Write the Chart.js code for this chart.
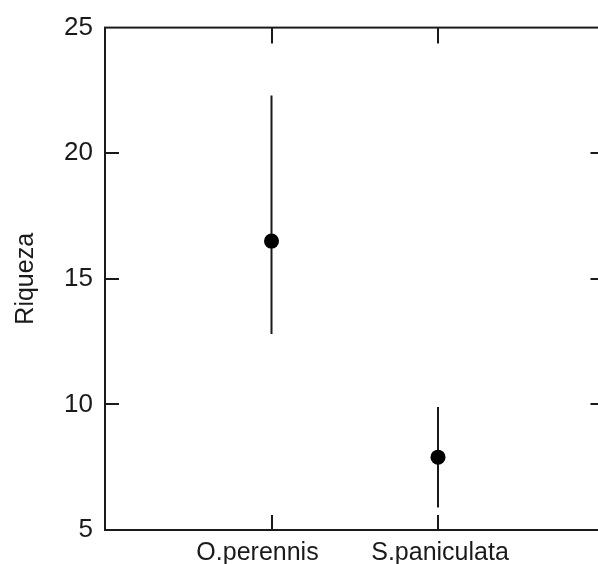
<!DOCTYPE html>
<html>
<head>
<meta charset="utf-8">
<script src="https://cdn.jsdelivr.net/npm/chart.js@4"></script>
<style>
  html, body { margin: 0; padding: 0; background: #fff; overflow: hidden; }
  #wrap { position: relative; width: 612px; height: 564px; }
</style>
</head>
<body>
<div id="wrap"><canvas id="riqueza"></canvas></div>
<script>
const categories = ['O.perennis', 'S.paniculata'];
const means = [16.5, 7.9];
const lower = [12.8, 5.9];
const upper = [22.3, 9.9];
const yTicks = [5, 10, 15, 20, 25];

const INK = '#1a1a1a';
const FONT = "'Liberation Sans', Arial, sans-serif";

// vertical error bars, one small line dataset per category
const errorSets = categories.map((c, i) => ({
    type: 'line',
    data: [{ x: i + 1, y: lower[i] }, { x: i + 1, y: upper[i] }],
    borderColor: INK,
    borderWidth: 2,
    pointRadius: 0,
    fill: false,
    order: 2
}));

// box around the plot, inward tick marks and the category names
const frame = {
    id: 'frame',
    beforeDatasetsDraw(chart) {
        const { ctx, chartArea: a, scales: { x, y } } = chart;
        ctx.save();
        ctx.strokeStyle = INK;
        ctx.lineWidth = 2;
        ctx.strokeRect(a.left, a.top, a.right - a.left, a.bottom - a.top);
        ctx.beginPath();
        yTicks.slice(1, -1).forEach(v => {
            const py = Math.round(y.getPixelForValue(v));
            ctx.moveTo(a.left, py); ctx.lineTo(a.left + 14, py);
            ctx.moveTo(a.right, py); ctx.lineTo(a.right - 14, py);
        });
        categories.forEach((c, i) => {
            const px = Math.round(x.getPixelForValue(i + 1));
            ctx.moveTo(px, a.top); ctx.lineTo(px, a.top + 16);
            ctx.moveTo(px, a.bottom); ctx.lineTo(px, a.bottom - 15);
        });
        ctx.stroke();

        // the original nudges the first name to the left
        ctx.fillStyle = INK;
        ctx.font = '25px ' + FONT;
        ctx.textAlign = 'center';
        ctx.textBaseline = 'alphabetic';
        categories.forEach((c, i) => {
            const px = x.getPixelForValue(i + 1);
            ctx.fillText(c, px + (i === 0 ? -14 : 2), a.bottom + 30);
        });
        ctx.restore();
    }
};

new Chart(document.getElementById('riqueza'), {
    type: 'scatter',
    data: {
        datasets: [
            {
                data: means.map((m, i) => ({ x: i + 1, y: m })),
                backgroundColor: '#000',
                borderColor: '#000',
                borderWidth: 0,
                pointRadius: 7.5,
                pointHoverRadius: 7.5,
                order: 1
            },
            ...errorSets
        ]
    },
    options: {
        responsive: true,
        maintainAspectRatio: false,
        animation: false,
        layout: { padding: { top: 27, right: 6, left: 0, bottom: 0 } },
        scales: {
            x: {
                type: 'linear',
                min: 0,
                max: 3,
                grid: { display: false, drawTicks: false },
                border: { display: false },
                afterBuildTicks: s => { s.ticks = categories.map((c, i) => ({ value: i + 1 })); },
                afterFit: s => { s.height = 34; },
                ticks: { display: false }
            },
            y: {
                min: 5,
                max: 25,
                grid: { display: false, drawTicks: false },
                border: { display: false },
                afterFit: s => { s.width = 105; },
                ticks: {
                    stepSize: 5,
                    padding: 12,
                    color: INK,
                    font: { family: FONT, size: 26 }
                },
                title: {
                    display: true,
                    text: 'Riqueza',
                    color: INK,
                    padding: { top: 11, bottom: 0 },
                    font: { family: FONT, size: 25 }
                }
            }
        },
        plugins: {
            legend: { display: false },
            tooltip: { enabled: false }
        }
    },
    plugins: [frame]
});
</script>
</body>
</html>
